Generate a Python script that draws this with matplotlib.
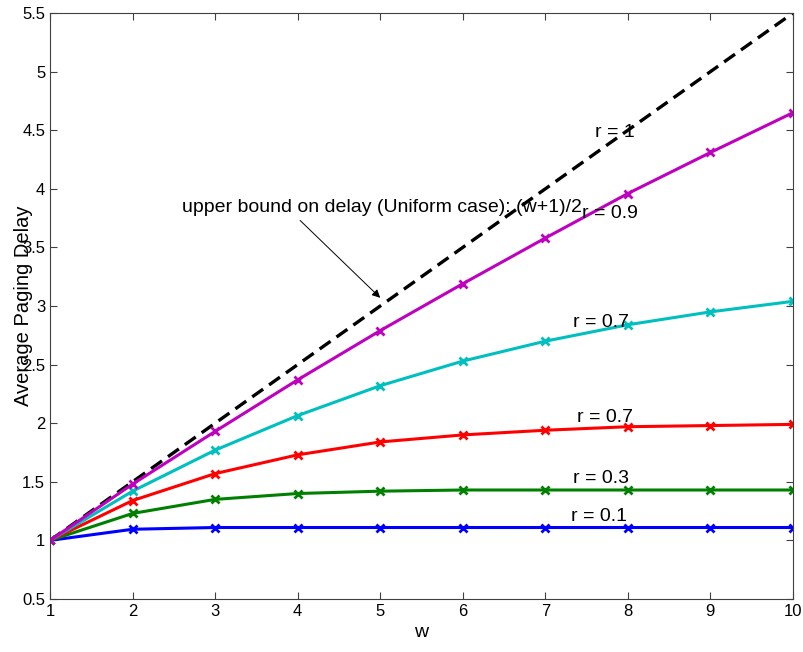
import numpy as np
import matplotlib
matplotlib.use("Agg")
import matplotlib.pyplot as plt

plt.rcParams['font.family'] = ['Liberation Sans', 'DejaVu Sans']

# window size w
w = [1, 2, 3, 4, 5, 6, 7, 8, 9, 10]

# average paging delay per r value
delay_r01 = [1.00, 1.095, 1.11, 1.11, 1.11, 1.11, 1.11, 1.11, 1.11, 1.11]
delay_r03 = [1.00, 1.23, 1.35, 1.40, 1.42, 1.43, 1.43, 1.43, 1.43, 1.43]
delay_r07 = [1.00, 1.34, 1.57, 1.73, 1.84, 1.90, 1.94, 1.97, 1.98, 1.99]
delay_r05 = [1.00, 1.42, 1.77, 2.065, 2.32, 2.53, 2.70, 2.84, 2.95, 3.04]
delay_r09 = [1.00, 1.48, 1.93, 2.37, 2.79, 3.19, 3.58, 3.96, 4.31, 4.65]
# uniform case upper bound (w+1)/2
delay_uniform = [1.0, 1.5, 2.0, 2.5, 3.0, 3.5, 4.0, 4.5, 5.0, 5.5]

series = [
    (delay_r01, 'b'),
    (delay_r03, 'g'),
    (delay_r07, 'r'),
    (delay_r05, 'c'),
    (delay_r09, 'm'),
]

# curve labels: (text, x, y)
curve_labels = [
    ("r = 1", 7.6, 4.48),
    ("r = 0.9", 7.45, 3.79),
    ("r = 0.7", 7.34, 2.86),
    ("r = 0.7", 7.38, 2.05),
    ("r = 0.3", 7.33, 1.53),
    ("r = 0.1", 7.31, 1.20),
]

fig = plt.figure(figsize=(8.04, 6.52), dpi=100)
ax = fig.add_axes([0.0622, 0.0813, 0.9241, 0.8987])

ax.plot(w, delay_uniform, 'k--', lw=2.4, dashes=(4, 2.2))
for vals, col in series:
    ax.plot(w, vals, color=col, lw=2.2, marker='x', markersize=6, markeredgewidth=2.0)

for txt, x, y in curve_labels:
    ax.text(x, y, txt, fontsize=14, va='center', ha='left')

ax.text(2.6, 3.84, "upper bound on delay (Uniform case): (w+1)/2", fontsize=14, va='center')
ax.annotate("", xy=(5.0, 3.07), xytext=(4.03, 3.73),
            arrowprops=dict(arrowstyle='-|>', color='k', lw=0.7, shrinkA=0, shrinkB=0,
                            mutation_scale=12))

ax.set_xlim(1, 10)
ax.set_ylim(0.5, 5.5)
ax.set_xticks(range(1, 11))
ax.set_yticks(np.arange(0.5, 5.51, 0.5))
ax.set_yticklabels(['0.5', '1', '1.5', '2', '2.5', '3', '3.5', '4', '4.5', '5', '5.5'])
ax.tick_params(direction='in', top=True, right=True, labelsize=12, length=5, color='#404040')
for sp in ax.spines.values():
    sp.set_color('#404040')

ax.set_xlabel('w', fontsize=14, labelpad=4)
ax.set_ylabel('Average Paging Delay', fontsize=14.5, labelpad=-8)

fig.savefig('out.png', dpi=100)
